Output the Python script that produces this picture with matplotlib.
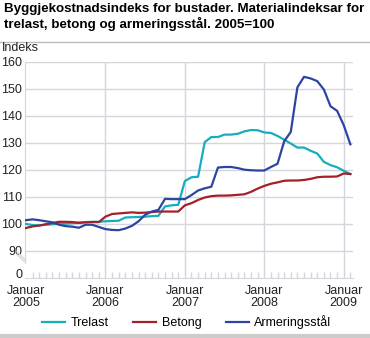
import numpy as np
import matplotlib
matplotlib.use("Agg")
import matplotlib.pyplot as plt
from matplotlib.lines import Line2D

plt.rcParams['font.family'] = ['Liberation Sans', 'DejaVu Sans']

# Monthly index, Jan 2005 - Feb 2009 (2005=100)
trelast = [99.9, 99.5, 99.4, 99.6, 99.8, 100.0, 100.0, 100.2, 100.4, 100.6, 100.7, 100.7,
           100.9, 101.0, 101.1, 102.3, 102.4, 102.5, 102.6, 102.8, 102.9, 106.4, 106.8, 107.0,
           115.8, 117.2, 117.4, 130.2, 132.1, 132.1, 133.0, 133.0, 133.3, 134.2, 134.7, 134.6,
           133.8, 133.6, 132.5, 131.1, 129.7, 128.2, 128.2, 127.0, 126.0, 122.9, 121.7, 120.9,
           119.6, 118.4]
betong = [98.4, 99.0, 99.3, 99.8, 100.3, 100.7, 100.7, 100.6, 100.3, 100.5, 100.6, 100.6,
          102.6, 103.6, 103.8, 104.0, 104.2, 104.0, 104.1, 104.3, 104.5, 104.5, 104.5, 104.5,
          106.8, 107.6, 108.8, 109.7, 110.2, 110.4, 110.4, 110.5, 110.7, 110.9, 111.8, 113.0,
          114.0, 114.8, 115.3, 115.9, 116.0, 116.0, 116.2, 116.6, 117.2, 117.4, 117.4, 117.5,
          118.6, 118.4]
armering = [101.3, 101.6, 101.3, 100.9, 100.5, 99.6, 99.1, 98.9, 98.5, 99.6, 99.6, 98.8,
            98.0, 97.7, 97.6, 98.2, 99.2, 100.9, 103.3, 104.5, 105.1, 109.2, 109.1, 109.1,
            109.1, 110.6, 112.3, 113.1, 113.7, 120.8, 121.0, 121.0, 120.6, 120.0, 119.8, 119.7,
            119.7, 121.0, 122.2, 130.5, 134.0, 150.5, 154.4, 153.8, 152.8, 149.7, 143.5, 141.8,
            136.5, 129.4]

series_names = ["Trelast", "Betong", "Armeringsstål"]
colors = ["#16aebb", "#a3202a", "#2c45a0"]
year_labels = ["Januar\n2005", "Januar\n2006", "Januar\n2007", "Januar\n2008", "Januar\n2009"]
ytick_vals = [80, 90, 100, 110, 120, 130, 140, 150, 160]
ytick_labels = ["0", "90", "100", "110", "120", "130", "140", "150", "160"]

months = np.arange(len(trelast))
grid_c = "#d4d6de"

fig = plt.figure(figsize=(3.70, 3.38), dpi=100)
ax = fig.add_axes([25/370, 60.3/338, 328/370, 216/338])

ax.set_ylim(80, 160)
ax.set_xlim(-0.15, 49.4)

for yv in ytick_vals[1:]:
    ax.axhline(yv, color=grid_c, lw=1.0, zorder=1)
for xv in [12, 24, 36, 48]:
    ax.axvline(xv, color=grid_c, lw=1.0, zorder=1)

for vals, name, c in zip([trelast, betong, armering], series_names, colors):
    ax.plot(months, vals, color=c, lw=1.6, label=name, zorder=3)

ax.set_yticks(ytick_vals)
ax.set_yticklabels(ytick_labels, fontsize=9)
ax.set_xticks([0, 12, 24, 36, 48])
ax.set_xticklabels(year_labels, fontsize=9, linespacing=0.95)
ax.set_xticks(np.arange(0, 50), minor=True)
ax.tick_params(axis='y', length=0, pad=2, colors='#222222')
ax.tick_params(axis='x', which='major', length=0, pad=5.5, colors='#222222')
ax.tick_params(axis='x', which='minor', direction='in', length=4, color=grid_c, width=1)
# lift the "0" label a little so it clears the first date label
ax.get_yticklabels()[0].set_va('baseline')

for s in ['top', 'right']:
    ax.spines[s].set_visible(False)
ax.spines['left'].set_color(grid_c)
ax.spines['left'].set_bounds(87, 160)
ax.spines['bottom'].set_color(grid_c)

# axis break marks
for off in [0, 0.012]:
    ax.add_line(Line2D([-0.025, 0.003], [0.12 - off, 0.08 - off], transform=ax.transAxes,
                       color=grid_c, lw=1, clip_on=False))

fig.text(4/370, 1 - 3/338, "Byggjekostnadsindeks for bustader. Materialindeksar for\ntrelast, betong og armeringsstål. 2005=100",
         fontsize=9.6, fontweight='bold', va='top', ha='left', linespacing=1.15)
fig.add_artist(Line2D([0, 1], [1 - 42/338, 1 - 42/338], color="#bdbdbd", lw=1))
fig.text(2/370, 1 - 48/338, "Indeks", fontsize=9, va='center', ha='left', color='#222222')
fig.add_artist(Line2D([0, 1], [1 - 336/338, 1 - 336/338], color="#cccccc", lw=3))

fig.legend(loc='center', bbox_to_anchor=(0.505, 1 - 322/338), ncol=3, frameon=False,
           fontsize=9, handlelength=1.8, columnspacing=2.0, handletextpad=0.45)

fig.savefig("out.png", dpi=100)
